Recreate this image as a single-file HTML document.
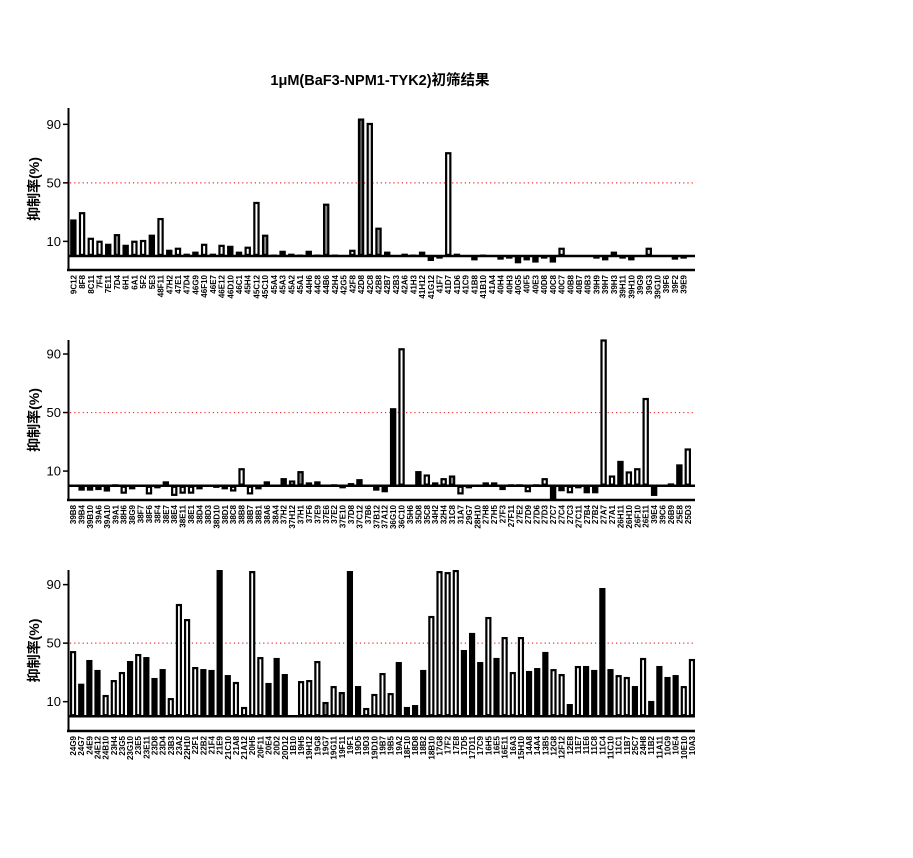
<!DOCTYPE html>
<html><head><meta charset="utf-8">
<style>
html,body{margin:0;padding:0;background:#fff;}
svg{display:block;}
text{font-family:"Liberation Sans","Noto Sans CJK SC",sans-serif;}
</style></head>
<body>
<svg id="chart" width="913" height="858" viewBox="0 0 913 858" xmlns="http://www.w3.org/2000/svg">
<text x="380" y="85" text-anchor="middle" font-size="14.5" font-weight="bold">1μM(BaF3-NPM1-TYK2)初筛结果</text>
</svg>
<script>
const p1Categories = ["9C12","8F8","8C11","7F4","7E11","7D4","6H1","6A1","5F2","5E3","48F11","47H2","47E1","47D4","46G9","46F10","46E7","46E12","46D10","46C1","45H4","45C12","45C10","45A4","45A3","45A2","45A1","44H6","44C8","44B6","42H4","42G5","42F8","42D8","42C8","42B8","42B7","42B3","42A6","41H3","41H12","41G12","41F7","41D7","41D6","41C9","41B8","41B10","41A4","40H4","40H3","40G5","40F5","40E3","40D8","40C8","40C7","40B8","40B7","40B3","39H9","39H7","39H3","39H11","39H10","39G9","39G3","39G10","39F6","39F2","39E9"];
const p1Values = [25,30,12.5,10.5,8.4,15,7.7,10.5,11,14.6,26,4.3,5.7,1.6,3,8.4,1.6,7.7,7,3,6.4,37,14.6,1,3.6,1.6,1,3.6,1,35.8,1,0.5,4.3,94,91,19.4,3,0.5,1.6,1,3,-3.4,-1.8,71,1.6,-0.7,-3,1,-0.7,-2.5,-1.8,-5,-3,-4.5,-1.8,-4.5,5.7,0.5,0,-0.5,-1.8,-3,3,-1.8,-3,-0.5,5.7,-0.5,0.5,-2.5,-1.8];
const p1Styles = "bwwwbgbwwbwbwbwwbwbwwwgbbbbbbgbbwDLGbbbbbbbwbbbbbbbbbbbbwbbbbbbbbbLbbbb";

const p2Categories = ["39B8","39B4","39B10","39A6","39A10","39A1","38H6","38G9","38F7","38F6","38F4","38E7","38E4","38E11","38E1","38D4","38D3","38D10","38D1","38C8","38B8","38B7","38B1","38A6","38A4","37H2","37H12","37H1","37F6","37E9","37E6","37E2","37E10","37D8","37C12","37B6","37B12","37A12","36G10","36C10","35H6","35D8","35C8","34H2","32H4","31C8","31A7","29G7","28H10","27H8","27H5","27F3","27F11","27E2","27D9","27D6","27D3","27C7","27C4","27C3","27C11","27B4","27B2","27A7","27A1","26H11","26H10","26F10","26E11","39E4","39C6","26B9","25E8","25D3"];
const p2Values = [-0.5,-3.4,-3.4,-3,-4,1,-5.5,-2.5,-0.5,-6,-1.8,3,-7,-5.5,-5.5,-2.5,-0.3,-1.5,-2.5,-4,12,-6,-2.5,3,-0.5,5.2,3.6,10,2.3,3,0,1,-1.8,1.8,4.5,-0.5,-3.4,-4.5,53,94,-0.7,10,7.7,2.3,5.2,7,-6,-1.8,-0.7,2.3,2.3,-3,1,1,-4.5,1,5.2,-10,-3.8,-5.2,-1.8,-5.2,-5.2,100,7,17,9.8,12,60,-7,-0.7,1.6,14.6,25.5];
const p2Styles = "bbbbbbwbbwbbwwwbbbbwwwbwbbwgwwbbbwbbbbbwbbwbwgwbbbbbbbwbwbbwbbbwwbwwwbbbbw";

const p3Categories = ["24G9","24G7","24E9","24E12","24B10","23H4","23G5","23G10","23E5","23E11","23D8","23D4","23B3","23A2","22H10","22F1","22B2","21F4","21E9","21C10","21A8","21A12","20H5","20F11","20E4","20D2","20D12","1B10","19H5","19H12","19G8","19G7","19G11","19F11","19F1","19D5","19D3","19D10","19B7","19B5","19A2","18F10","18D8","18B2","18B10","17G8","17F2","17E8","17D5","17D11","17C9","16H5","16E5","16E11","16A3","15H10","14A8","14A4","13B5","12G8","12F12","12E8","11E7","11E6","11C8","11C4","11C10","11C1","11B7","25C7","24H8","11B2","11A11","10G9","10E4","10E10","10A3"];
const p3Values = [44.6,22.3,38.5,31.7,14.6,24.8,30.3,37.8,42.6,40.5,26.2,32.3,12.5,76.8,66.5,33.7,32.3,31.7,100,28.2,23.5,6.4,99.3,40.5,22.8,39.9,28.9,0,24.1,24.8,37.8,9.8,20.7,16.6,99.3,20.7,5.7,15.3,29.6,15.9,37.1,6.4,7.7,31.7,68.6,99.3,98.6,100,45.3,57,37.1,67.9,39.9,54.2,30.3,54.2,31,33,44,32.3,28.9,8.4,34.4,34.4,31.7,87.7,32.3,28.2,26.9,20.7,39.9,10.5,34.4,26.9,28.2,20.7,39.2];
const p3Styles = "wbbbwwwbwbbbwwwwbbbbwwwwbbbbwwwgwgbbwwwwbbbbwwwwbbbwbwwwbbbwwbwbbbbwwbwbbbbww";

const yTicks = [10,50,90];
const refLine = 50;

const NS = "http://www.w3.org/2000/svg";
const svg = document.getElementById("chart");
function mk(tag, attrs, parent){
  const e = document.createElementNS(NS, tag);
  for (const k in attrs) e.setAttribute(k, attrs[k]);
  (parent||svg).appendChild(e);
  return e;
}
const fills = {b:"#000",w:"#fff",g:"#888",D:"#555",L:"#ddd",G:"#999"};

function drawPanel(idx, cats, vals, styles, top, zeroY, bottom, x1){
  const x0 = 69, k = 1.463;
  const yScale = v => zeroY - v * k;
  const step = (x1 - x0) / cats.length;
  const bw = Math.min(6.4, step * 0.76);
  const sw = 2.2;
  const xScale = i => x0 + step * (i + 0.5);
  const g = mk("g", {});
  
  
  const rl = mk("line", {x1:70, x2:695, y1:yScale(refLine), y2:yScale(refLine), stroke:"#f03030", "stroke-width":1.2, "stroke-dasharray":"1.2,3"}, g);
  
  
  vals.forEach((v, i) => {
    const s = styles[i] || "b";
    const yv = yScale(v), y = Math.min(yv, zeroY), h = Math.abs(yv - zeroY);
    const cx = xScale(i);
    let r;
    if (s === "b" || h < 2*sw) {
      r = mk("rect", {x:cx - bw/2, y:y, width:bw, height:Math.max(h,0.01), fill:"#000"}, g);
    } else {
      r = mk("rect", {x:cx - bw/2 + sw/2, y:y + sw/2, width:bw - sw, height:Math.max(h - sw, 0.01), fill:fills[s], stroke:"#000", "stroke-width":sw}, g);
    }
    
    
    const t = mk("text", {x:0, y:0, "font-size":8, "font-weight":"bold", "text-anchor":"end", transform:"translate(" + (cx + 3) + "," + (bottom + 5) + ") rotate(-90)"}, g);
    t.textContent = cats[i];
    
    
  });
  const zl = mk("line", {x1:68, x2:695, y1:zeroY, y2:zeroY, stroke:"#000", "stroke-width":2.5}, g);
  
  
  const xa = mk("line", {x1:67, x2:695, y1:bottom, y2:bottom, stroke:"#000", "stroke-width":2.5}, g);
  
  
  const ya = mk("line", {x1:68.5, x2:68.5, y1:top, y2:bottom + 1, stroke:"#000", "stroke-width":2}, g);
  
  
  yTicks.forEach(tv => {
    const yy = yScale(tv);
    const tk = mk("line", {x1:63, x2:68, y1:yy, y2:yy, stroke:"#000", "stroke-width":1.5}, g);
    
    
    const tl = mk("text", {x:61, y:yy + 4.5, "font-size":13, "text-anchor":"end"}, g);
    tl.textContent = tv;
    
    
  });
  const yt = mk("text", {x:0, y:0, "font-size":14, "font-weight":"bold", "text-anchor":"middle", transform:"translate(39," + ((top + bottom)/2) + ") rotate(-90)"}, g);
  yt.textContent = "抑制率(%)";
  
  
}
drawPanel(1, p1Categories, p1Values, p1Styles, 108, 256, 270, 688);
drawPanel(2, p2Categories, p2Values, p2Styles, 340, 485.7, 500, 692);
drawPanel(3, p3Categories, p3Values, p3Styles, 570, 716.3, 731, 696);
</script>
</body></html>
